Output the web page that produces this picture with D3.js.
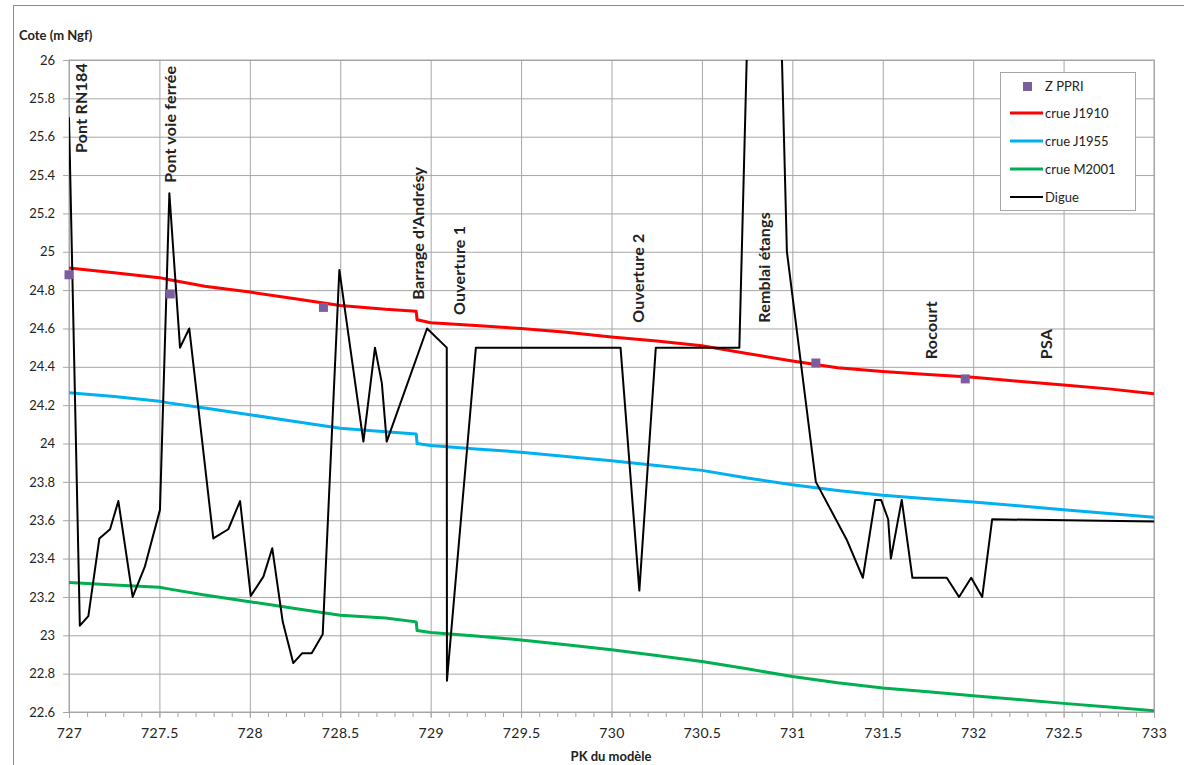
<!DOCTYPE html>
<html>
<head>
<meta charset="utf-8">
<script src="https://cdn.jsdelivr.net/npm/d3@7"></script>
<style>
  body { margin: 0; background: #fff; }
  text { font-family: Lato, "Open Sans", sans-serif; fill: #222; }
</style>
</head>
<body>
<div id="chart"></div>
<script>
// Profile en long : lignes d'eau des crues et cote de la digue

// Globals
const margin = {top: 60, right: 30, bottom: 53, left: 69},
  width = 1184 - margin.left - margin.right,
  height = 765 - margin.top - margin.bottom;

// crue J1910 (pk, cote)
const pkJ1910 = [727.0, 727.25, 727.5, 727.55, 727.75, 728.0, 728.25, 728.5, 728.75, 728.92, 728.925, 729.0, 729.25, 729.5, 729.75, 730.0, 730.25, 730.5, 730.75, 731.0, 731.25, 731.5, 731.75, 732.0, 732.25, 732.5, 732.75, 733.0];
const zJ1910 = [24.915, 24.89, 24.865, 24.855, 24.82, 24.79, 24.755, 24.72, 24.70, 24.69, 24.645, 24.63, 24.615, 24.60, 24.58, 24.555, 24.535, 24.51, 24.47, 24.43, 24.395, 24.375, 24.36, 24.345, 24.325, 24.305, 24.285, 24.26];

// crue J1955
const pkJ1955 = [727.0, 727.25, 727.5, 727.55, 727.75, 728.0, 728.25, 728.5, 728.75, 728.92, 728.925, 729.0, 729.25, 729.5, 729.75, 730.0, 730.25, 730.5, 730.75, 731.0, 731.25, 731.5, 731.75, 732.0, 732.25, 732.5, 732.75, 733.0];
const zJ1955 = [24.265, 24.245, 24.22, 24.212, 24.185, 24.15, 24.115, 24.08, 24.062, 24.05, 24.0, 23.99, 23.972, 23.955, 23.932, 23.91, 23.885, 23.86, 23.82, 23.785, 23.755, 23.73, 23.712, 23.695, 23.675, 23.655, 23.635, 23.615];

// crue M2001
const pkM2001 = [727.0, 727.25, 727.5, 727.55, 727.75, 728.0, 728.25, 728.5, 728.75, 728.92, 728.925, 729.0, 729.25, 729.5, 729.75, 730.0, 730.25, 730.5, 730.75, 731.0, 731.25, 731.5, 731.75, 732.0, 732.25, 732.5, 732.75, 733.0];
const zM2001 = [23.275, 23.262, 23.25, 23.242, 23.21, 23.175, 23.14, 23.105, 23.09, 23.07, 23.025, 23.015, 22.996, 22.976, 22.951, 22.925, 22.895, 22.863, 22.825, 22.785, 22.752, 22.725, 22.705, 22.685, 22.665, 22.645, 22.626, 22.607];

// Digue
const pkDigue = [727.0, 727.06, 727.107, 727.168, 727.227, 727.273, 727.352, 727.42, 727.503, 727.555, 727.614, 727.665, 727.798, 727.881, 727.946, 728.005, 728.075, 728.124, 728.182, 728.24, 728.29, 728.342, 728.403, 728.495, 728.628, 728.692, 728.73, 728.757, 728.98, 729.089, 729.09, 729.25, 730.05, 730.154, 730.245, 730.707, 730.78, 730.91, 730.97, 731.13, 731.30, 731.39, 731.458, 731.491, 731.53, 731.545, 731.605, 731.664, 731.854, 731.922, 731.989, 732.05, 732.105, 733.0];
const zDigue = [25.70, 23.05, 23.10, 23.505, 23.553, 23.70, 23.20, 23.36, 23.654, 25.305, 24.50, 24.60, 23.505, 23.553, 23.70, 23.205, 23.306, 23.454, 23.07, 22.855, 22.907, 22.907, 23.006, 24.905, 24.01, 24.50, 24.315, 24.01, 24.60, 24.50, 22.763, 24.50, 24.50, 23.233, 24.50, 24.50, 27.2, 27.2, 25.0, 23.80, 23.50, 23.30, 23.706, 23.706, 23.605, 23.40, 23.706, 23.30, 23.30, 23.20, 23.30, 23.20, 23.605, 23.593];

// Z PPRI
const pkPPRI = [727.0, 727.56, 728.407, 731.13, 731.956];
const zPPRI = [24.88, 24.78, 24.71, 24.42, 24.337];

// ouvrages (étiquettes verticales)
const ouvrages = ["Pont RN184", "Pont voie ferrée", "Barrage d'Andrésy", "Ouverture 1", "Ouverture 2", "Remblai étangs", "Rocourt", "PSA"];
const pkOuvrages = [727.066, 727.56, 728.93, 729.157, 730.147, 730.844, 731.768, 732.405];
const zOuvrages = [25.515, 25.36, 24.75, 24.67, 24.63, 24.63, 24.44, 24.44];

// ticks
const yTicks = d3.range(0, 18).map(i => +(22.6 + i * 0.2).toFixed(1));
const xTicks = d3.range(0, 13).map(i => 727 + i * 0.5);
const xMinorTicks = d3.range(0, 61).map(i => +(727 + i * 0.1).toFixed(1));

const series = [
  {name: "crue J1910", pk: pkJ1910, z: zJ1910, color: "#ff0000", w: 3},
  {name: "crue J1955", pk: pkJ1955, z: zJ1955, color: "#00b0f0", w: 3},
  {name: "crue M2001", pk: pkM2001, z: zM2001, color: "#00b050", w: 3},
  {name: "Digue", pk: pkDigue, z: zDigue, color: "#000000", w: 2}
];
const gridColor = "#a6a6a6";
const ppriColor = "#7b5f9c";

var svg = d3.select("#chart")
  .append("svg")
    .attr("width", 1184)
    .attr("height", 765);

// cadre du graphique
svg.append("rect")
  .attr("x", 13.5).attr("y", 5.5)
  .attr("width", 1200).attr("height", 800)
  .attr("fill", "none")
  .attr("stroke", "#8c8c8c");

var g = svg.append("g")
  .attr("transform", "translate(" + margin.left + "," + margin.top + ")");

var x = d3.scaleLinear()
  .domain([727, 733])
  .range([0, width]);
var y = d3.scaleLinear()
  .domain([22.6, 26])
  .range([height, 0]);

// grid
g.append("g")
  .attr("class", "grid")
  .call(d3.axisLeft(y).tickValues(yTicks).tickSize(-width).tickFormat(""))
  .call(s => s.select(".domain").remove())
  .call(s => s.selectAll("line").attr("stroke", gridColor));
g.append("g")
  .attr("class", "grid")
  .attr("transform", "translate(0," + height + ")")
  .call(d3.axisBottom(x).tickValues(xTicks).tickSize(-height).tickFormat(""))
  .call(s => s.select(".domain").remove())
  .call(s => s.selectAll("line").attr("stroke", gridColor));
g.append("rect")
  .attr("width", width).attr("height", height)
  .attr("fill", "none").attr("stroke", gridColor);

// Y axis
g.append("g")
  .call(d3.axisLeft(y).tickValues(yTicks).tickSize(6).tickPadding(8).tickFormat(d => String(d)))
  .call(s => s.select(".domain").attr("stroke", gridColor))
  .call(s => s.selectAll("line").attr("stroke", gridColor))
  .call(s => s.selectAll("text").style("font-size", "13px").attr("fill", "#222"));

// X axis (minor + major)
g.append("g")
  .attr("transform", "translate(0," + height + ")")
  .call(d3.axisBottom(x).tickValues(xMinorTicks).tickSize(5).tickFormat(""))
  .call(s => s.select(".domain").attr("stroke", gridColor))
  .call(s => s.selectAll("line").attr("stroke", gridColor));
g.append("g")
  .attr("transform", "translate(0," + height + ")")
  .call(d3.axisBottom(x).tickValues(xTicks).tickSize(6).tickPadding(10).tickFormat(d => String(d)))
  .call(s => s.select(".domain").remove())
  .call(s => s.selectAll("line").attr("stroke", gridColor))
  .call(s => s.selectAll("text").style("font-size", "14px").style("letter-spacing", "0.4px").attr("fill", "#222"));

// axis titles
svg.append("text")
  .attr("x", 19).attr("y", 40)
  .style("font-size", "13px").style("font-weight", "bold")
  .text("Cote (m Ngf)");
svg.append("text")
  .attr("x", 611).attr("y", 761)
  .attr("text-anchor", "middle")
  .style("font-size", "13px").style("font-weight", "bold")
  .text("PK du modèle");

// clip
svg.append("defs").append("clipPath").attr("id", "plot-clip")
  .append("rect").attr("width", width).attr("height", height);

var plot = g.append("g").attr("clip-path", "url(#plot-clip)");

var line = d3.line()
  .x(d => x(d[0]))
  .y(d => y(d[1]));

series.forEach(function(s) {
  plot.append("path")
    .datum(d3.zip(s.pk, s.z))
    .attr("d", line)
    .attr("fill", "none")
    .attr("stroke", s.color)
    .attr("stroke-width", s.w)
    .attr("stroke-linejoin", "round");
});

// Z PPRI
g.selectAll("rect.ppri")
  .data(d3.zip(pkPPRI, zPPRI))
  .enter()
  .append("rect")
    .attr("class", "ppri")
    .attr("x", d => x(d[0]) - 4.5)
    .attr("y", d => y(d[1]) - 4.5)
    .attr("width", 9).attr("height", 9)
    .attr("fill", ppriColor);

// labels ouvrages
g.selectAll("text.ouvrage")
  .data(d3.zip(ouvrages, pkOuvrages, zOuvrages))
  .enter()
  .append("text")
    .attr("class", "ouvrage")
    .attr("transform", d => "translate(" + (x(d[1]) + 6) + "," + y(d[2]) + ") rotate(-90)")
    .style("font-size", "16px").style("font-weight", "bold")
    .style("letter-spacing", "0.2px")
    .attr("fill", "#000")
    .text(d => d[0]);

// Legend
var legend = svg.append("g").attr("transform", "translate(1000,72)");
legend.append("rect")
  .attr("x", 0.5).attr("y", 0.5)
  .attr("width", 135).attr("height", 138)
  .attr("fill", "#fff").attr("stroke", "#a6a6a6");
legend.append("rect")
  .attr("x", 23).attr("y", 10)
  .attr("width", 9).attr("height", 9)
  .attr("fill", ppriColor);
legend.append("text")
  .attr("x", 45).attr("y", 19)
  .style("font-size", "13px")
  .text("Z PPRI");
series.forEach(function(s, i) {
  var ly = 41 + i * 28;
  legend.append("line")
    .attr("x1", 10).attr("x2", 43)
    .attr("y1", ly).attr("y2", ly)
    .attr("stroke", s.color)
    .attr("stroke-width", s.w);
  legend.append("text")
    .attr("x", 45).attr("y", ly + 5)
    .style("font-size", "13px")
    .text(s.name);
});
</script>
</body>
</html>
